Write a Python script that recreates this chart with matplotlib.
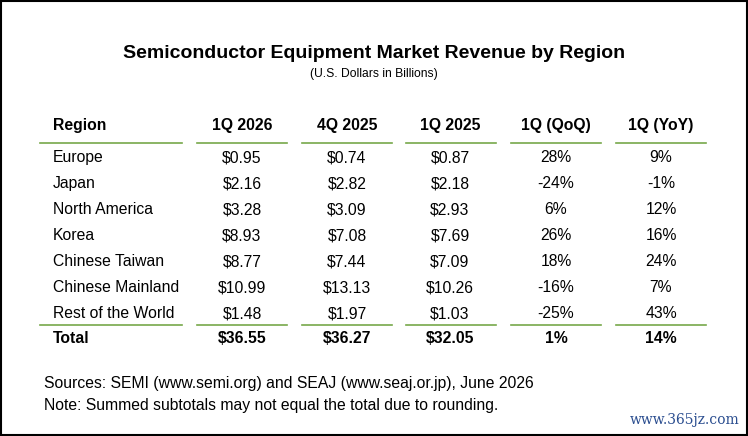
import matplotlib
matplotlib.use("Agg")
import matplotlib.pyplot as plt
from matplotlib.patches import Rectangle

columns = ["Region", "1Q 2026", "4Q 2025", "1Q 2025", "1Q (QoQ)", "1Q (YoY)"]
regions = ["Europe", "Japan", "North America", "Korea", "Chinese Taiwan", "Chinese Mainland", "Rest of the World"]
q1_2026 = ["$0.95", "$2.16", "$3.28", "$8.93", "$8.77", "$10.99", "$1.48"]
q4_2025 = ["$0.74", "$2.82", "$3.09", "$7.08", "$7.44", "$13.13", "$1.97"]
q1_2025 = ["$0.87", "$2.18", "$2.93", "$7.69", "$7.09", "$10.26", "$1.03"]
qoq = ["28%", "-24%", "6%", "26%", "18%", "-16%", "-25%"]
yoy = ["9%", "-1%", "12%", "16%", "24%", "7%", "43%"]
total = ["Total", "$36.55", "$36.27", "$32.05", "1%", "14%"]

fig = plt.figure(figsize=(7.48, 4.36), dpi=100)
ax = fig.add_axes([0, 0, 1, 1])
ax.set_xlim(0, 748); ax.set_ylim(436, 0); ax.axis("off")
ax.add_patch(Rectangle((1, 1), 746, 434, fill=False, ec="black", lw=1.5))
font = "Liberation Sans"
green = "#77a84a"
fs = 11.3

ax.text(374, 53, "Semiconductor Equipment Market Revenue by Region", ha="center", va="center",
        fontsize=14, fontweight="bold", family=font)
ax.text(374, 74, "(U.S. Dollars in Billions)", ha="center", va="center", fontsize=8.7, family=font)

xs = [53, 242, 347, 450, 556, 661]
spans = [(40, 182), (197, 287), (302, 392), (406, 496), (511, 601), (616, 706)]
for i, c in enumerate(columns):
    ax.text(xs[i], 125, c, ha="left" if i == 0 else "center", va="center", fontsize=fs,
            fontweight="bold", family=font)
for a, b in spans:
    ax.plot([a, b], [143, 143], color=green, lw=1.2)
    ax.plot([a, b], [325, 325], color=green, lw=1.2)

rows = list(zip(regions, q1_2026, q4_2025, q1_2025, qoq, yoy))
for r, row in enumerate(rows):
    y = 157.5 + 26 * r
    for i, v in enumerate(row):
        ax.text(xs[i], y, v, ha="left" if i == 0 else "center", va="center", fontsize=fs, family=font)
for i, v in enumerate(total):
    ax.text(xs[i], 338, v, ha="left" if i == 0 else "center", va="center", fontsize=fs,
            fontweight="bold", family=font)

ax.text(44, 383, "Sources: SEMI (www.semi.org) and SEAJ (www.seaj.or.jp), June 2026", ha="left",
        va="center", fontsize=fs, family=font)
ax.text(44, 405, "Note: Summed subtotals may not equal the total due to rounding.", ha="left",
        va="center", fontsize=fs, family=font)
ax.text(740, 420, "www.365jz.com", ha="right", va="center", fontsize=10, color="#2a4d8f",
        family="DejaVu Serif")
fig.savefig("out.png", dpi=100)
